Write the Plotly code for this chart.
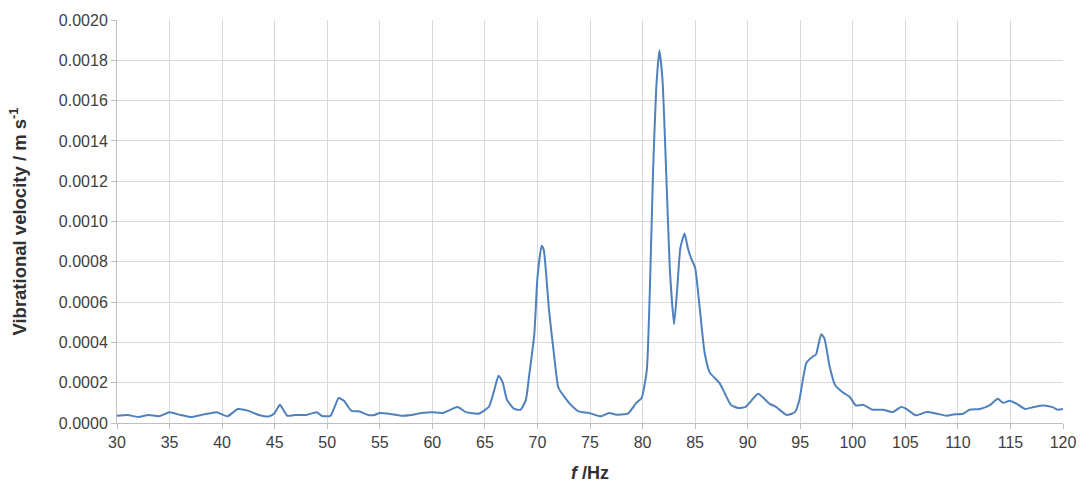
import plotly.graph_objects as go

freq_hz = [30, 31, 32, 33, 34, 35, 36, 37, 38, 39, 39.5, 40.5, 41.5, 42.5, 43.5, 44.5, 45, 45.5,
           46.2, 47, 48, 49, 49.5, 50.3, 50.7, 51.1, 51.6, 52.3, 53, 53.9, 54.5, 55, 56, 57, 58,
           59, 60, 61, 62.4, 63.2, 64.4, 65.4, 65.9, 66.3, 66.7, 67.1, 67.8, 68.4, 68.9, 69.2,
           69.7, 70, 70.4, 70.6, 71.1, 71.6, 72, 73, 73.9, 74.9, 76, 76.8, 77.4, 78.6, 79.4,
           79.9, 80.4, 80.7, 81, 81.3, 81.6, 81.9, 82.3, 82.6, 83, 83.3, 83.6, 84, 84.3, 84.6,
           85, 85.4, 85.9, 86.4, 87.3, 87.8, 88.4, 89.1, 89.8, 90.5, 91, 92.1, 92.7, 93.7, 94.5,
           94.9, 95.3, 95.6, 96.2, 96.5, 97, 97.3, 97.8, 98.3, 99.1, 99.7, 100.3, 101, 101.9,
           102.9, 103.8, 104.6, 105.1, 106, 107, 108, 108.9, 109.7, 110.5, 111.1, 112.1, 113,
           113.8, 114.3, 114.9, 115.6, 116.4, 117.2, 118.1, 119, 119.5, 120]

velocity = [0.000036, 0.00004, 0.00003, 0.00004, 0.000033, 0.000053, 0.00004, 0.00003, 0.00004,
            0.00005, 0.000053, 0.000033, 0.000069, 0.00006, 0.00004, 0.000033, 0.00005, 0.00009,
            0.000036, 0.00004, 0.00004, 0.000053, 0.000035, 0.000035, 0.00008, 0.000124, 0.00011,
            0.00006, 0.000058, 0.00004, 0.00004, 0.00005, 0.000045, 0.000036, 0.00004, 0.00005,
            0.000053, 0.00005, 0.000079, 0.000054, 0.000046, 0.000082, 0.000165, 0.000235, 0.0002,
            0.000115, 0.00007, 0.000066, 0.000115, 0.00023, 0.00044, 0.00072, 0.00088, 0.00086,
            0.00056, 0.00033, 0.000175, 0.0001, 0.000058, 0.00005, 0.000033, 0.00005, 0.000042,
            0.000046, 0.0001, 0.000123, 0.00026, 0.00067, 0.00125, 0.00166, 0.00185, 0.0017,
            0.00117, 0.00076, 0.00049, 0.00067, 0.00087, 0.00094, 0.00087, 0.00082, 0.00077,
            0.00059, 0.00035, 0.00025, 0.0002, 0.00015, 0.00009, 0.000074, 0.00008, 0.00012,
            0.000145, 0.000095, 0.00008, 0.00004, 0.000054, 0.00011, 0.00023, 0.0003, 0.00033,
            0.00034, 0.00044, 0.00042, 0.00028, 0.00019, 0.00015, 0.00013, 0.000087, 0.00009,
            0.000066, 0.000066, 0.000054, 0.00008, 0.00007, 0.000038, 0.000054, 0.000046,
            0.000036, 0.000043, 0.000046, 0.000066, 0.00007, 0.000087, 0.00012, 0.0001, 0.00011,
            0.000095, 0.00007, 0.000079, 0.000087, 0.000079, 0.000066, 0.00007]

x_ticks = list(range(30, 121, 5))
y_ticks = [i * 0.0002 for i in range(11)]
y_tick_labels = [f"{v:.4f}" for v in y_ticks]

fig = go.Figure()
fig.add_trace(go.Scatter(
    x=freq_hz, y=velocity, mode="lines",
    line=dict(color="#4F81BD", width=2, shape="spline", smoothing=0.5),
    showlegend=False, hoverinfo="x+y",
))

font_family = "Liberation Sans, Arial, sans-serif"
fig.update_layout(
    width=1090, height=486,
    margin=dict(l=117, r=27, t=20, b=63),
    paper_bgcolor="white", plot_bgcolor="white",
    font=dict(family=font_family, size=16, color="#404040"),
    xaxis=dict(
        range=[30, 120], tickvals=x_ticks, ticktext=[str(t) for t in x_ticks],
        showgrid=True, gridcolor="#D9D9D9", gridwidth=1,
        showline=True, linecolor="#BFBFBF", linewidth=1,
        ticks="outside", ticklen=5, tickcolor="#BFBFBF",
        tickfont=dict(size=16, color="#404040"),
        zeroline=False, automargin=False,
        title=dict(text="<b><i>f</i> /Hz</b>", font=dict(size=18, color="#303030"), standoff=16),
    ),
    yaxis=dict(
        range=[0, 0.002], tickvals=y_ticks, ticktext=y_tick_labels,
        showgrid=True, gridcolor="#D9D9D9", gridwidth=1,
        showline=True, linecolor="#BFBFBF", linewidth=1,
        ticks="outside", ticklen=5, tickcolor="#BFBFBF",
        tickfont=dict(size=16, color="#404040"),
        zeroline=False, automargin=False,
        title=dict(text="<b>Vibrational velocity / m s<sup>-1</sup></b>",
                   font=dict(size=18.5, color="#303030"), standoff=27),
    ),
)

fig.write_html("out.html")
